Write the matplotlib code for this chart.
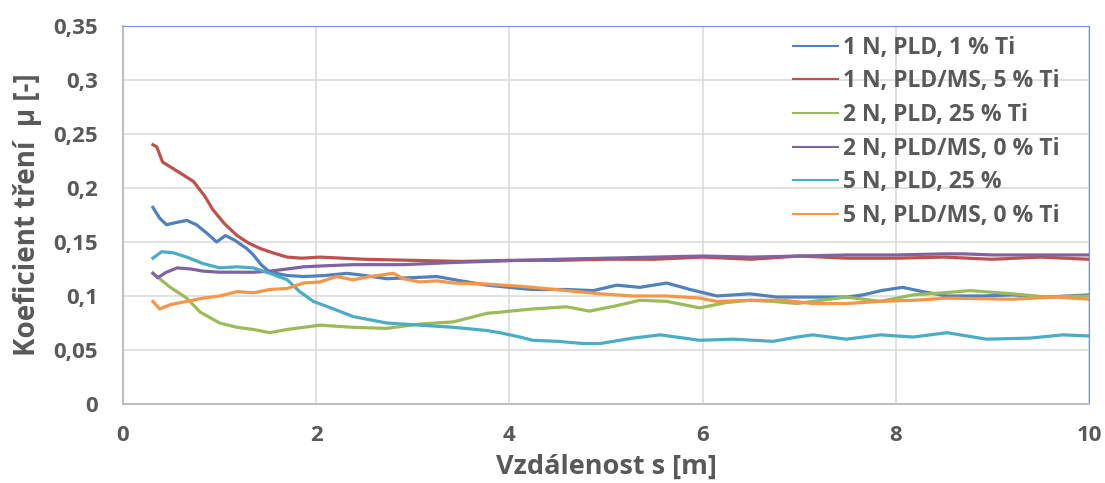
import matplotlib
matplotlib.use("Agg")
import matplotlib.pyplot as plt

# vzdálenost s [m] a koeficient tření pro jednotlivé vzorky
x_1n_pld = [0.31, 0.38, 0.45, 0.55, 0.66, 0.76, 0.87, 0.97, 1.06, 1.15, 1.28, 1.35, 1.43, 1.52, 1.7, 1.87, 2.1, 2.32,
            2.5, 2.73, 3.0, 3.25, 3.5, 3.77, 4.11, 4.24, 4.59, 4.87, 5.11, 5.35, 5.63, 5.87, 6.15, 6.49, 6.77, 7.14,
            7.49, 7.66, 7.85, 8.07, 8.28, 8.53, 8.9, 9.21, 9.56, 10.0]
y_1n_pld = [0.182, 0.172, 0.166, 0.168, 0.170, 0.166, 0.158, 0.150, 0.156, 0.152, 0.144, 0.138, 0.129, 0.122, 0.119,
            0.118, 0.119, 0.121, 0.119, 0.116, 0.117, 0.118, 0.114, 0.110, 0.107, 0.106, 0.106, 0.105, 0.110, 0.108,
            0.112, 0.106, 0.100, 0.102, 0.099, 0.099, 0.099, 0.101, 0.105, 0.108, 0.104, 0.100, 0.100, 0.101,
            0.099, 0.101]

x_1n_pldms = [0.31, 0.35, 0.41, 0.5, 0.59, 0.73, 0.85, 0.93, 1.05, 1.18, 1.3, 1.42, 1.55, 1.7, 1.85, 2.04, 2.5,
              3.0, 3.5, 4.0, 4.5, 5.0, 5.5, 6.0, 6.5, 7.0, 7.5, 8.0, 8.5, 9.0, 9.5, 10.0]
y_1n_pldms = [0.240, 0.238, 0.224, 0.219, 0.214, 0.206, 0.192, 0.180, 0.167, 0.156, 0.149, 0.144, 0.140, 0.136,
              0.135, 0.136, 0.134, 0.133, 0.132, 0.133, 0.133, 0.134, 0.134, 0.136, 0.134, 0.137, 0.135, 0.135,
              0.136, 0.134, 0.136, 0.134]

x_2n_pld = [0.31, 0.49, 0.66, 0.8, 1.0, 1.18, 1.35, 1.52, 1.7, 2.04, 2.38, 2.73, 3.07, 3.42, 3.77, 3.9, 4.24, 4.59,
            4.83, 5.11, 5.35, 5.63, 5.97, 6.25, 6.49, 6.73, 6.98, 7.14, 7.49, 7.84, 8.18, 8.5, 8.77, 9.21, 9.56,
            10.0]
y_2n_pld = [0.121, 0.108, 0.098, 0.085, 0.075, 0.071, 0.069, 0.066, 0.069, 0.073, 0.071, 0.070, 0.074, 0.076,
            0.084, 0.085, 0.088, 0.090, 0.086, 0.091, 0.096, 0.095, 0.089, 0.094, 0.096, 0.095, 0.093, 0.095,
            0.099, 0.095, 0.101, 0.103, 0.105, 0.102, 0.099, 0.100]

x_2n_pldms = [0.31, 0.36, 0.45, 0.56, 0.7, 0.83, 1.0, 1.18, 1.35, 1.52, 1.7, 1.87, 2.1, 2.38, 2.9, 3.42, 4.11,
              4.5, 5.0, 5.5, 6.0, 6.5, 7.0, 7.5, 8.0, 8.5, 8.7, 9.0, 9.5, 10.0]
y_2n_pldms = [0.121, 0.117, 0.122, 0.126, 0.125, 0.123, 0.122, 0.122, 0.122, 0.123, 0.125, 0.127, 0.128, 0.129,
              0.129, 0.131, 0.133, 0.134, 0.135, 0.136, 0.137, 0.136, 0.137, 0.138, 0.138, 0.139, 0.139, 0.138,
              0.138, 0.138]

x_5n_pld = [0.31, 0.4, 0.52, 0.66, 0.83, 1.0, 1.18, 1.35, 1.52, 1.7, 1.83, 1.97, 2.21, 2.38, 2.73, 3.07, 3.42,
            3.77, 3.9, 4.11, 4.24, 4.5, 4.76, 4.94, 5.28, 5.56, 5.97, 6.32, 6.73, 6.98, 7.14, 7.49, 7.84, 8.18,
            8.53, 8.94, 9.39, 9.73, 10.0]
y_5n_pld = [0.135, 0.141, 0.140, 0.136, 0.130, 0.126, 0.127, 0.126, 0.121, 0.115, 0.104, 0.095, 0.087, 0.081,
            0.075, 0.073, 0.071, 0.068, 0.066, 0.062, 0.059, 0.058, 0.056, 0.056, 0.061, 0.064, 0.059, 0.060,
            0.058, 0.062, 0.064, 0.060, 0.064, 0.062, 0.066, 0.060, 0.061, 0.064, 0.063]

x_5n_pldms = [0.31, 0.38, 0.49, 0.66, 0.83, 1.0, 1.18, 1.35, 1.52, 1.7, 1.87, 2.04, 2.21, 2.38, 2.56, 2.8, 2.9,
              3.07, 3.25, 3.42, 3.77, 4.11, 4.24, 4.59, 4.94, 5.28, 5.63, 5.97, 6.15, 6.49, 6.84, 7.14, 7.49,
              7.84, 8.18, 8.53, 9.21, 9.66, 10.0]
y_5n_pldms = [0.095, 0.088, 0.092, 0.095, 0.098, 0.100, 0.104, 0.103, 0.106, 0.107, 0.112, 0.113, 0.118, 0.115,
              0.118, 0.121, 0.116, 0.113, 0.114, 0.112, 0.111, 0.109, 0.108, 0.105, 0.102, 0.100, 0.100, 0.098,
              0.095, 0.096, 0.096, 0.093, 0.093, 0.095, 0.096, 0.098, 0.097, 0.099, 0.097]

serie = [
    ("1 N, PLD, 1 % Ti", x_1n_pld, y_1n_pld, "#4F81BD"),
    ("1 N, PLD/MS, 5 % Ti", x_1n_pldms, y_1n_pldms, "#C0504D"),
    ("2 N, PLD, 25 % Ti", x_2n_pld, y_2n_pld, "#9BBB59"),
    ("2 N, PLD/MS, 0 % Ti", x_2n_pldms, y_2n_pldms, "#8064A2"),
    ("5 N, PLD, 25 %", x_5n_pld, y_5n_pld, "#4BACC6"),
    ("5 N, PLD/MS, 0 % Ti", x_5n_pldms, y_5n_pldms, "#F79646"),
]

x_ticks = [0, 2, 4, 6, 8, 10]
y_ticks = [0, 0.05, 0.1, 0.15, 0.2, 0.25, 0.3, 0.35]
y_tick_labels = ["0", "0,05", "0,1", "0,15", "0,2", "0,25", "0,3", "0,35"]

plt.rcParams["font.family"] = ["Open Sans", "DejaVu Sans"]
plt.rcParams["font.weight"] = "bold"
sedy = "#595959"

fig = plt.figure(figsize=(11.05, 4.83), dpi=100)
ax = fig.add_axes([0.1113, 0.1636, 0.8742, 0.7826])

for nazev, xs, ys, barva in serie:
    ax.plot(xs, ys, color=barva, linewidth=2.3, label=nazev)

ax.set_xlim(0, 10)
ax.set_ylim(0, 0.35)
ax.set_xticks(x_ticks)
ax.set_yticks(y_ticks)
ax.set_yticklabels(y_tick_labels)
ax.tick_params(length=0, labelsize=16, labelcolor=sedy)
ax.tick_params(axis="y", pad=18)
ax.tick_params(axis="x", pad=15)
for lbl in ax.get_xticklabels() + ax.get_yticklabels():
    lbl.set_fontweight("bold")

ax.grid(True, color="#D9D9D9", linewidth=1.1)
ax.set_axisbelow(True)
for strana in ("left", "bottom"):
    ax.spines[strana].set_color("#BFBFBF")
    ax.spines[strana].set_linewidth(1.5)
for strana in ("top", "right"):
    ax.spines[strana].set_color("#7094CC")
    ax.spines[strana].set_linewidth(0.8)

ax.set_xlabel("Vzdálenost s [m]", fontsize=19.5, fontweight="bold", color=sedy, labelpad=6)
ax.set_ylabel("Koeficient tření  μ [-]", fontsize=20, fontweight="bold", color=sedy, labelpad=8)

leg = ax.legend(loc="upper left", bbox_to_anchor=(0.7176, 0.926), bbox_transform=fig.transFigure,
                frameon=False, fontsize=16.5, handlelength=1.96, handletextpad=0.22, labelspacing=0.42,
                borderpad=0, borderaxespad=0)
for line in leg.get_lines():
    line.set_linewidth(1.5)
for text in leg.get_texts():
    text.set_color(sedy)
    text.set_fontweight("bold")

fig.savefig("out.png", dpi=100)
